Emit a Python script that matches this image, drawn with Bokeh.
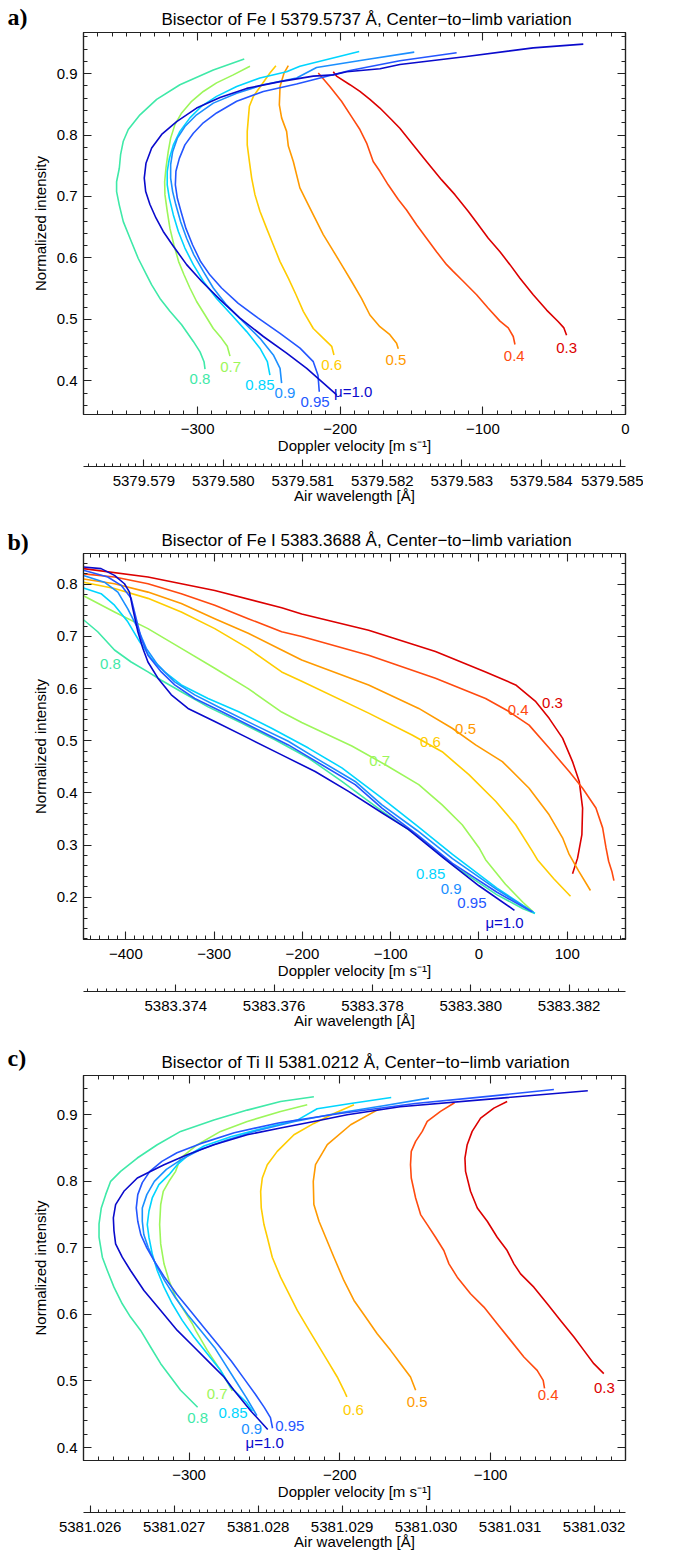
from bokeh.plotting import figure
from bokeh.models import (Range1d, LinearAxis, SingleIntervalTicker, PrintfTickFormatter,
                          CustomJSTickFormatter, Title)
from bokeh.core.properties import value
from bokeh.layouts import column, row
from bokeh.embed import file_html
from bokeh.resources import INLINE

FONT = "Liberation Sans"
SERIF = "Liberation Serif"
AXC = "#222222"

# ---------------- data ----------------
MU = ["0.3", "0.4", "0.5", "0.6", "0.7", "0.8", "0.85", "0.9", "0.95", "1.0"]
MU_TEXT = ["0.3", "0.4", "0.5", "0.6", "0.7", "0.8", "0.85", "0.9", "0.95", "μ=1.0"]
COLORS = ["#dc0000", "#ff4a0f", "#ff9a00", "#ffcc00", "#9cf65a",
          "#3fe9a8", "#00d5ff", "#1b8fff", "#2456ff", "#0a0acc"]

TAGS = ["a)", "b)", "c)"]
TITLES = ["Bisector of Fe I 5379.5737 Å, Center−to−limb variation",
          "Bisector of Fe I 5383.3688 Å, Center−to−limb variation",
          "Bisector of Ti II 5381.0212 Å, Center−to−limb variation"]
LAMBDA0 = [5379.5737, 5383.3688, 5381.0212]
GRAV_REDSHIFT = 633.0      # m/s offset between velocity zero and wavelength axis
C_LIGHT = 299792458.0

# Panel a: Fe I 5379.5737  (velocity m/s, normalized intensity)
A_V = {
    "0.3": [-204.9, -202.6, -193.2, -186.2, -179.2, -172.2, -164.0, -158.2, -148.8, -139.5, -128.9, -119.6,
            -110.3, -103.2, -96.2, -88.0, -81.0, -74.0, -64.7, -55.3, -47.1, -43.2, -41.3],
    "0.4": [-215.4, -207.3, -199.1, -192.1, -186.2, -181.5, -176.9, -172.2, -166.4, -159.3, -153.5, -146.5,
            -139.5, -132.5, -125.4, -120.8, -113.8, -104.4, -96.2, -88.0, -82.2, -78.7, -77.5],
    "0.5": [-236.4, -239.4, -242.2, -242.7, -241.1, -237.6, -236.4, -232.9, -228.3, -223.6, -217.8, -211.9,
            -206.1, -199.1, -192.1, -185.1, -179.2, -172.2, -165.2, -160.5, -159.3],
    "0.6": [-245.1, -249.3, -255.1, -260.9, -263.7, -264.4, -265.2, -265.2, -263.7, -262.1, -259.8, -256.3,
            -251.6, -246.9, -242.2, -236.4, -231.0, -225.9, -218.9, -211.8, -206.0, -204.4],
    "0.7": [-263.3, -275.0, -286.7, -296.0, -304.2, -311.2, -315.9, -318.9, -320.6, -322.2, -323.1, -322.9,
            -321.3, -319.4, -316.6, -313.3, -309.6, -305.4, -300.7, -294.8, -289.0, -283.2, -279.2, -277.3],
    "0.8": [-267.3, -289.0, -312.4, -328.7, -340.4, -348.6, -352.1, -354.0, -354.9, -356.8, -356.8, -354.9,
            -352.1, -347.4, -341.6, -335.7, -332.2, -326.4, -319.4, -311.2, -303.0, -298.3, -295.5, -294.8],
    "0.85": [-186.7, -228.3, -237.6, -256.3, -272.6, -286.7, -297.2, -305.4, -312.4, -317.0, -319.8, -321.3,
             -321.3, -319.8, -317.0, -313.5, -308.9, -303.0, -296.0, -286.7, -276.1, -265.6, -256.3, -251.1, -249.3],
    "0.9": [-148.1, -181.5, -216.6, -230.6, -253.9, -272.6, -289.0, -300.7, -308.9, -314.2, -317.5, -318.9,
            -318.9, -317.5, -315.2, -311.9, -307.7, -302.6, -296.0, -289.0, -279.6, -268.0, -256.3, -246.9,
            -242.2, -241.1],
    "0.95": [-118.4, -158.2, -193.2, -207.2, -230.6, -253.9, -272.6, -286.7, -296.0, -303.0, -308.9, -312.8,
             -315.2, -315.6, -314.2, -311.7, -308.2, -303.5, -297.9, -291.3, -283.2, -271.5, -257.5, -242.2,
             -228.2, -218.9, -215.6, -214.7],
    "1.0": [-29.6, -64.7, -111.4, -158.2, -172.1, -195.5, -204.9, -218.9, -242.2, -265.6, -284.3, -300.7,
            -314.7, -325.2, -332.2, -336.2, -337.4, -336.4, -333.4, -329.2, -324.1, -317.0, -307.7, -297.2,
            -284.3, -270.3, -253.9, -237.6, -223.5, -211.8, -202.5],
}
A_I = {
    "0.3": [0.903, 0.896, 0.882, 0.871, 0.858, 0.844, 0.825, 0.811, 0.784, 0.757, 0.727, 0.703,
            0.676, 0.654, 0.632, 0.610, 0.589, 0.567, 0.540, 0.515, 0.496, 0.486, 0.474],
    "0.4": [0.901, 0.879, 0.855, 0.830, 0.809, 0.787, 0.757, 0.741, 0.719, 0.695, 0.678, 0.654,
            0.632, 0.610, 0.589, 0.578, 0.562, 0.540, 0.518, 0.497, 0.486, 0.472, 0.459],
    "0.5": [0.913, 0.901, 0.879, 0.849, 0.828, 0.806, 0.782, 0.757, 0.714, 0.692, 0.665, 0.638,
            0.616, 0.589, 0.562, 0.534, 0.507, 0.488, 0.475, 0.461, 0.452],
    "0.6": [0.913, 0.901, 0.882, 0.863, 0.847, 0.828, 0.806, 0.784, 0.757, 0.730, 0.703, 0.676,
            0.648, 0.621, 0.594, 0.567, 0.540, 0.513, 0.485, 0.469, 0.456, 0.442],
    "0.7": [0.912, 0.898, 0.885, 0.871, 0.855, 0.836, 0.817, 0.795, 0.773, 0.746, 0.724, 0.703,
            0.676, 0.648, 0.621, 0.594, 0.573, 0.551, 0.529, 0.507, 0.485, 0.469, 0.456, 0.440],
    "0.8": [0.924, 0.906, 0.882, 0.858, 0.833, 0.809, 0.790, 0.768, 0.746, 0.724, 0.708, 0.686,
            0.659, 0.632, 0.599, 0.572, 0.556, 0.534, 0.513, 0.491, 0.464, 0.447, 0.431, 0.419],
    "0.85": [0.936, 0.912, 0.903, 0.893, 0.879, 0.863, 0.847, 0.828, 0.806, 0.784, 0.762, 0.741,
             0.719, 0.697, 0.670, 0.643, 0.616, 0.589, 0.562, 0.534, 0.507, 0.480, 0.453, 0.431, 0.409],
    "0.9": [0.935, 0.923, 0.910, 0.893, 0.882, 0.868, 0.852, 0.833, 0.814, 0.795, 0.773, 0.752,
            0.730, 0.708, 0.686, 0.659, 0.632, 0.605, 0.578, 0.551, 0.523, 0.496, 0.469, 0.442,
            0.420, 0.396],
    "0.95": [0.934, 0.921, 0.905, 0.897, 0.883, 0.871, 0.855, 0.836, 0.820, 0.803, 0.784, 0.762,
             0.741, 0.719, 0.697, 0.676, 0.648, 0.621, 0.594, 0.572, 0.551, 0.526, 0.502, 0.477,
             0.453, 0.431, 0.409, 0.382],
    "1.0": [0.948, 0.942, 0.928, 0.915, 0.908, 0.903, 0.898, 0.896, 0.887, 0.876, 0.861, 0.844,
            0.822, 0.801, 0.779, 0.754, 0.730, 0.708, 0.687, 0.665, 0.643, 0.619, 0.589, 0.562,
            0.532, 0.502, 0.472, 0.445, 0.420, 0.396, 0.377],
}
A_LAB_V = [-41.3, -78.0, -161.0, -206.0, -276.8, -298.3, -256.3, -238.7, -217.7, -190.9]
A_LAB_I = [0.453, 0.441, 0.434, 0.426, 0.423, 0.402, 0.393, 0.380, 0.366, 0.382]

# Panel b: Fe I 5383.3688
B_V = {
    "0.3": [-448.0, -375.0, -299.3, -223.5, -200.8, -125.0, -49.3, 7.5, 41.6, 64.4, 79.5, 94.7, 106.0,
            113.6, 117.4, 116.6, 111.7, 106.0],
    "0.4": [-448.0, -412.9, -375.0, -337.2, -299.3, -261.4, -223.5, -200.8, -125.0, -49.3, 7.5, 34.0,
            56.8, 79.5, 102.2, 117.4, 132.5, 140.1, 143.9, 146.9, 150.5, 152.9],
    "0.5": [-448.0, -412.9, -375.0, -337.2, -299.3, -261.4, -223.5, -200.8, -125.0, -68.2, -30.3, -3.8,
            26.5, 56.8, 79.5, 94.7, 102.2, 113.0, 126.3],
    "0.6": [-448.0, -412.9, -375.0, -337.2, -299.3, -261.4, -223.5, -200.8, -125.0, -75.8, -41.7, -11.4,
            18.9, 41.6, 60.6, 66.2, 85.0, 103.7],
    "0.7": [-448.0, -412.9, -375.0, -337.2, -299.3, -261.4, -223.5, -200.8, -144.0, -106.1, -68.2, -41.7,
            -19.0, 0.0, 7.5, 30.0, 50.0, 60.9],
    "0.8": [-448.0, -431.9, -412.9, -394.0, -375.0, -359.9, -337.2, -306.9, -269.0, -231.1, -193.2, -155.3,
            -109.9, -70.0, -30.0, 20.0, 50.0, 63.4],
    "0.85": [-448.0, -428.1, -412.9, -397.8, -384.5, -371.3, -356.1, -337.2, -306.9, -272.8, -234.9, -193.2,
             -155.3, -109.9, -70.0, -30.0, 20.0, 63.4],
    "0.9": [-448.0, -424.3, -409.1, -397.8, -386.4, -376.9, -363.7, -344.7, -322.0, -291.7, -253.8, -216.0,
            -178.1, -140.2, -109.9, -70.0, -30.0, 20.0, 62.0],
    "0.95": [-448.0, -420.5, -405.3, -394.0, -388.3, -382.6, -375.0, -359.9, -344.7, -322.0, -291.7, -253.8,
             -216.0, -178.1, -140.2, -109.9, -70.0, -30.0, 20.0, 60.0],
    "1.0": [-448.0, -428.1, -412.9, -401.6, -395.9, -392.1, -386.4, -380.7, -375.0, -363.7, -348.5, -329.6,
            -299.3, -261.4, -223.5, -185.6, -147.8, -110.0, -80.0, -40.0, 0.0, 40.2],
}
B_I = {
    "0.3": [0.830, 0.814, 0.788, 0.755, 0.743, 0.712, 0.671, 0.632, 0.607, 0.575, 0.543, 0.505, 0.460,
            0.422, 0.371, 0.320, 0.275, 0.245],
    "0.4": [0.820, 0.814, 0.801, 0.782, 0.760, 0.734, 0.709, 0.700, 0.664, 0.620, 0.581, 0.556,
            0.530, 0.486, 0.441, 0.409, 0.371, 0.333, 0.295, 0.269, 0.250, 0.232],
    "0.5": [0.810, 0.801, 0.785, 0.763, 0.734, 0.706, 0.674, 0.655, 0.607, 0.562, 0.524, 0.492,
            0.460, 0.409, 0.358, 0.314, 0.282, 0.250, 0.213],
    "0.6": [0.804, 0.792, 0.773, 0.747, 0.715, 0.677, 0.632, 0.614, 0.553, 0.511, 0.479, 0.435,
            0.384, 0.339, 0.288, 0.272, 0.235, 0.202],
    "0.7": [0.778, 0.747, 0.715, 0.677, 0.639, 0.600, 0.555, 0.535, 0.490, 0.454, 0.416, 0.377,
            0.339, 0.295, 0.272, 0.225, 0.190, 0.173],
    "0.8": [0.732, 0.709, 0.674, 0.651, 0.632, 0.616, 0.594, 0.565, 0.534, 0.502, 0.467, 0.422,
            0.365, 0.318, 0.262, 0.205, 0.178, 0.169],
    "0.85": [0.793, 0.782, 0.760, 0.728, 0.690, 0.658, 0.632, 0.607, 0.581, 0.556, 0.524, 0.486,
             0.448, 0.390, 0.337, 0.282, 0.218, 0.169],
    "0.9": [0.817, 0.804, 0.785, 0.753, 0.715, 0.677, 0.645, 0.613, 0.588, 0.562, 0.530, 0.499,
            0.460, 0.422, 0.377, 0.328, 0.274, 0.215, 0.171],
    "0.95": [0.827, 0.814, 0.798, 0.773, 0.734, 0.696, 0.664, 0.632, 0.607, 0.581, 0.556, 0.524,
             0.492, 0.454, 0.416, 0.371, 0.320, 0.265, 0.210, 0.172],
    "1.0": [0.833, 0.830, 0.817, 0.801, 0.785, 0.753, 0.709, 0.677, 0.651, 0.620, 0.588, 0.562,
            0.537, 0.505, 0.473, 0.441, 0.403, 0.362, 0.330, 0.275, 0.222, 0.175],
}
B_LAB_V = [83.3, 44.3, -15.2, -55.0, -112.5, -417.5, -54.7, -31.6, -8.0, 29.0]
B_LAB_I = [0.572, 0.559, 0.523, 0.498, 0.462, 0.648, 0.244, 0.215, 0.189, 0.151]

# Panel c: Ti II 5381.0212
C_V = {
    "0.3": [-89.0, -97.8, -106.6, -112.2, -115.5, -117.0, -116.6, -113.3, -108.8, -102.2, -95.6, -89.0,
            -84.5, -80.1, -71.3, -62.4, -53.6, -44.7, -38.1, -31.5, -24.9],
    "0.4": [-123.9, -133.2, -142.0, -145.3, -149.7, -152.6, -153.1, -152.6, -149.7, -146.4, -142.0, -136.5,
            -131.0, -127.6, -122.1, -113.3, -104.4, -95.6, -86.7, -77.9, -69.1, -65.1, -64.2],
    "0.5": [-172.9, -192.8, -208.3, -216.1, -217.6, -217.2, -213.8, -209.4, -203.9, -197.3, -190.6, -182.9,
            -175.2, -166.3, -159.7, -153.1, -149.7],
    "0.6": [-190.6, -203.9, -217.2, -230.4, -241.5, -248.1, -251.4, -252.5, -252.1, -250.3, -248.1, -244.8,
            -239.3, -233.7, -228.2, -221.6, -215.0, -208.3, -201.7, -197.3, -195.3],
    "0.7": [-221.6, -239.3, -261.4, -279.1, -294.5, -305.6, -308.9, -313.3, -317.1, -318.8, -319.5, -318.8,
            -316.6, -313.3, -308.9, -303.4, -297.8, -295.6, -287.9, -279.1, -271.3],
    "0.8": [-217.2, -239.3, -261.4, -283.5, -305.6, -321.1, -334.3, -345.4, -352.0, -355.3, -358.2, -359.7,
            -359.7, -357.5, -354.2, -349.8, -344.3, -338.8, -332.1, -325.5, -318.8, -312.2, -305.6, -294.3],
    "0.85": [-165.9, -192.8, -215.0, -228.2, -250.3, -272.4, -290.1, -301.2, -307.8, -313.3, -320.0, -324.4,
             -326.6, -327.7, -326.6, -324.4, -321.1, -316.6, -311.1, -304.5, -296.7, -287.9, -279.1, -272.4,
             -262.0, -258.0],
    "0.9": [-140.9, -170.0, -200.0, -230.0, -255.0, -275.0, -292.0, -305.0, -315.0, -323.0, -328.0, -331.0,
            -331.0, -330.0, -327.0, -322.0, -316.0, -309.0, -301.0, -292.0, -283.0, -276.0, -269.0, -262.0,
            -255.0],
    "0.95": [-58.0, -100.0, -150.0, -200.0, -240.0, -270.0, -292.0, -308.0, -318.0, -326.0, -331.0, -334.0,
             -335.0, -334.0, -332.0, -328.0, -323.0, -316.0, -308.0, -299.0, -290.0, -281.0, -272.0, -264.0,
             -256.0, -250.0, -246.0, -244.6],
    "1.0": [-35.5, -93.0, -160.0, -195.1, -217.2, -239.3, -261.4, -283.5, -301.2, -316.6, -334.3, -343.2,
            -348.7, -350.2, -349.8, -348.7, -344.3, -338.8, -329.9, -318.8, -307.8, -296.7, -285.7, -276.8,
            -270.2, -259.0, -247.8],
}
C_I = {
    "0.3": [0.920, 0.910, 0.895, 0.875, 0.855, 0.835, 0.815, 0.785, 0.760, 0.740, 0.716, 0.696,
            0.676, 0.661, 0.641, 0.616, 0.591, 0.566, 0.546, 0.526, 0.511],
    "0.4": [0.918, 0.905, 0.890, 0.875, 0.860, 0.845, 0.825, 0.805, 0.775, 0.750, 0.735, 0.716,
            0.696, 0.676, 0.656, 0.631, 0.611, 0.586, 0.561, 0.536, 0.516, 0.501, 0.489],
    "0.5": [0.910, 0.885, 0.855, 0.825, 0.800, 0.765, 0.740, 0.716, 0.686, 0.651, 0.621, 0.596,
            0.571, 0.546, 0.526, 0.506, 0.486],
    "0.6": [0.915, 0.902, 0.887, 0.870, 0.845, 0.825, 0.805, 0.785, 0.760, 0.735, 0.716, 0.686,
            0.656, 0.631, 0.606, 0.581, 0.556, 0.531, 0.506, 0.486, 0.476],
    "0.7": [0.915, 0.905, 0.890, 0.875, 0.855, 0.835, 0.815, 0.800, 0.785, 0.765, 0.735, 0.706,
            0.676, 0.651, 0.626, 0.606, 0.586, 0.576, 0.546, 0.516, 0.485],
    "0.8": [0.927, 0.920, 0.907, 0.892, 0.875, 0.855, 0.835, 0.815, 0.800, 0.780, 0.760, 0.736,
            0.716, 0.686, 0.666, 0.641, 0.616, 0.596, 0.576, 0.551, 0.526, 0.506, 0.486, 0.4605],
    "0.85": [0.926, 0.917, 0.909, 0.892, 0.880, 0.867, 0.853, 0.838, 0.825, 0.810, 0.795, 0.775,
             0.755, 0.735, 0.716, 0.691, 0.666, 0.641, 0.616, 0.591, 0.566, 0.541, 0.516, 0.491,
             0.468, 0.455],
    "0.9": [0.925, 0.914, 0.903, 0.890, 0.876, 0.862, 0.848, 0.833, 0.818, 0.800, 0.780, 0.760,
            0.740, 0.720, 0.700, 0.675, 0.650, 0.625, 0.600, 0.575, 0.550, 0.525, 0.500, 0.475,
            0.448],
    "0.95": [0.938, 0.928, 0.917, 0.902, 0.888, 0.873, 0.857, 0.843, 0.830, 0.815, 0.798, 0.780,
             0.760, 0.740, 0.720, 0.700, 0.680, 0.655, 0.630, 0.605, 0.580, 0.555, 0.530, 0.505,
             0.480, 0.460, 0.445, 0.429],
    "1.0": [0.936, 0.925, 0.912, 0.900, 0.890, 0.880, 0.870, 0.855, 0.840, 0.825, 0.805, 0.785,
            0.765, 0.745, 0.726, 0.706, 0.686, 0.666, 0.636, 0.606, 0.576, 0.551, 0.526, 0.506,
            0.486, 0.455, 0.427],
}
C_LAB_V = [-24.5, -61.8, -148.7, -191.0, -281.4, -294.3, -270.8, -258.4, -233.2, -249.8]
C_LAB_I = [0.490, 0.479, 0.468, 0.457, 0.4805, 0.444, 0.452, 0.428, 0.432, 0.407]

# ---------------- layout settings ----------------
X_RANGES = [(-380.0, 0.0), (-448.0, 166.0), (-370.0, -10.5)]
Y_RANGES = [(0.345, 0.967), (0.119, 0.859), (0.3805, 0.959)]
WL_STEP = [0.001, 0.002, 0.001]
FRAME_H = [382, 386, 385]
TOP_BORDER = [32, 47, 44]
TAG_STANDOFF = [4, -4, 7]       # vertical placement of the panel tags (middle aligned)
TAG_W = 28
FRAME_LEFT = 83


def wavelength(v, lam0):
    return lam0 * (1.0 + (v + GRAV_REDSHIFT) / C_LIGHT)


def style_axis(ax, labels=True, tin=8, mtin=4):
    ax.axis_line_color = AXC
    ax.axis_line_width = 1.2
    ax.major_tick_line_color = AXC
    ax.minor_tick_line_color = AXC
    ax.major_tick_line_width = 1.1
    ax.minor_tick_line_width = 1.0
    ax.major_tick_in = tin
    ax.major_tick_out = 0
    ax.minor_tick_in = mtin
    ax.minor_tick_out = 0
    ax.major_label_text_font = FONT
    ax.major_label_text_color = "black"
    ax.axis_label_text_font = FONT
    ax.axis_label_text_font_size = "15px"
    ax.axis_label_text_font_style = "normal"
    ax.axis_label_text_color = "black"
    if labels:
        ax.major_label_text_font_size = "15px"
    else:
        ax.major_label_text_font_size = "0px"
        ax.formatter = CustomJSTickFormatter(code="return '';")
        ax.major_label_standoff = 0


def build(k, vel, inten, lab_v, lab_i):
    x0, x1 = X_RANGES[k]
    y0, y1 = Y_RANGES[k]
    fh = FRAME_H[k]
    p = figure(frame_width=542, frame_height=fh,
               x_range=Range1d(x0, x1), y_range=Range1d(y0, y1),
               output_backend="svg", toolbar_location=None,
               min_border_left=FRAME_LEFT - TAG_W, min_border_right=18,
               min_border_top=TOP_BORDER[k], min_border_bottom=0)
    p.grid.visible = False
    p.outline_line_color = AXC
    p.outline_line_width = 1.2
    p.background_fill_color = "white"
    p.border_fill_color = "white"

    p.title.text = TITLES[k]
    p.title.align = "left"
    p.title.offset = 78
    p.title.text_font = FONT
    p.title.text_font_size = "17px"
    p.title.text_font_style = "normal"
    p.title.text_color = "black"
    p.title.standoff = 7

    # main velocity axis (below)
    xa = p.xaxis[0]
    xa.ticker = SingleIntervalTicker(interval=100, num_minor_ticks=10)
    xa.formatter = CustomJSTickFormatter(code="return tick.toFixed(0).replace('-', '\u2212');")
    style_axis(xa)
    xa.major_label_standoff = 9
    xa.axis_label = "Doppler velocity [m s⁻¹]"
    xa.axis_label_standoff = 0

    # y axis
    ya = p.yaxis[0]
    ya.ticker = SingleIntervalTicker(interval=0.1, num_minor_ticks=5)
    ya.formatter = PrintfTickFormatter(format="%.1f")
    style_axis(ya)
    ya.major_label_standoff = 6
    ya.axis_label = "Normalized intensity"
    ya.axis_label_standoff = 5

    # mirrored axes (ticks only)
    top = LinearAxis(ticker=SingleIntervalTicker(interval=100, num_minor_ticks=10))
    style_axis(top, labels=False)
    p.add_layout(top, "above")
    right = LinearAxis(ticker=SingleIntervalTicker(interval=0.1, num_minor_ticks=5))
    style_axis(right, labels=False)
    p.add_layout(right, "right")

    # spacer + wavelength axis
    p.add_layout(Title(text=" ", text_font_size="2px", standoff=6), "below")
    lam0 = LAMBDA0[k]
    p.extra_x_ranges = {"wl": Range1d(wavelength(x0, lam0), wavelength(x1, lam0))}
    wl = LinearAxis(x_range_name="wl",
                    ticker=SingleIntervalTicker(interval=WL_STEP[k], num_minor_ticks=10),
                    formatter=PrintfTickFormatter(format="%.3f"))
    style_axis(wl, tin=7, mtin=3)
    wl.major_label_standoff = 9
    wl.axis_label = "Air wavelength [Å]"
    wl.axis_label_standoff = -2
    p.add_layout(wl, "below")

    for j, m in enumerate(MU):
        p.line(vel[m], inten[m], line_color=COLORS[j], line_width=1.6, line_join="round")

    p.text(x=lab_v, y=lab_i, text=MU_TEXT, text_color=COLORS,
           text_font=value(FONT), text_font_size="15px",
           text_align="center", text_baseline="middle")

    # panel tag: title of a narrow companion figure whose top border equals the plot's
    t = figure(frame_width=TAG_W, frame_height=1, x_range=Range1d(0, 1), y_range=Range1d(0, 1),
               x_axis_type=None, y_axis_type=None, toolbar_location=None,
               output_backend="svg", min_border=0,
               min_border_top=TOP_BORDER[k], min_border_bottom=8, title=TAGS[k])
    t.outline_line_color = None
    t.grid.visible = False
    t.background_fill_color = "white"
    t.border_fill_color = "white"
    t.title.text_font = SERIF
    t.title.text_font_style = "bold"
    t.title.text_font_size = "24px"
    t.title.text_color = "black"
    t.title.align = "left"
    t.title.offset = 7
    t.title.vertical_align = "middle"
    t.title.standoff = TAG_STANDOFF[k]
    return row(t, p, spacing=0)


pa = build(0, A_V, A_I, A_LAB_V, A_LAB_I)
pb = build(1, B_V, B_I, B_LAB_V, B_LAB_I)
pc = build(2, C_V, C_I, C_LAB_V, C_LAB_I)

page = column(pa, pb, pc, spacing=0)
open("out.html", "w").write(file_html(page, INLINE))
